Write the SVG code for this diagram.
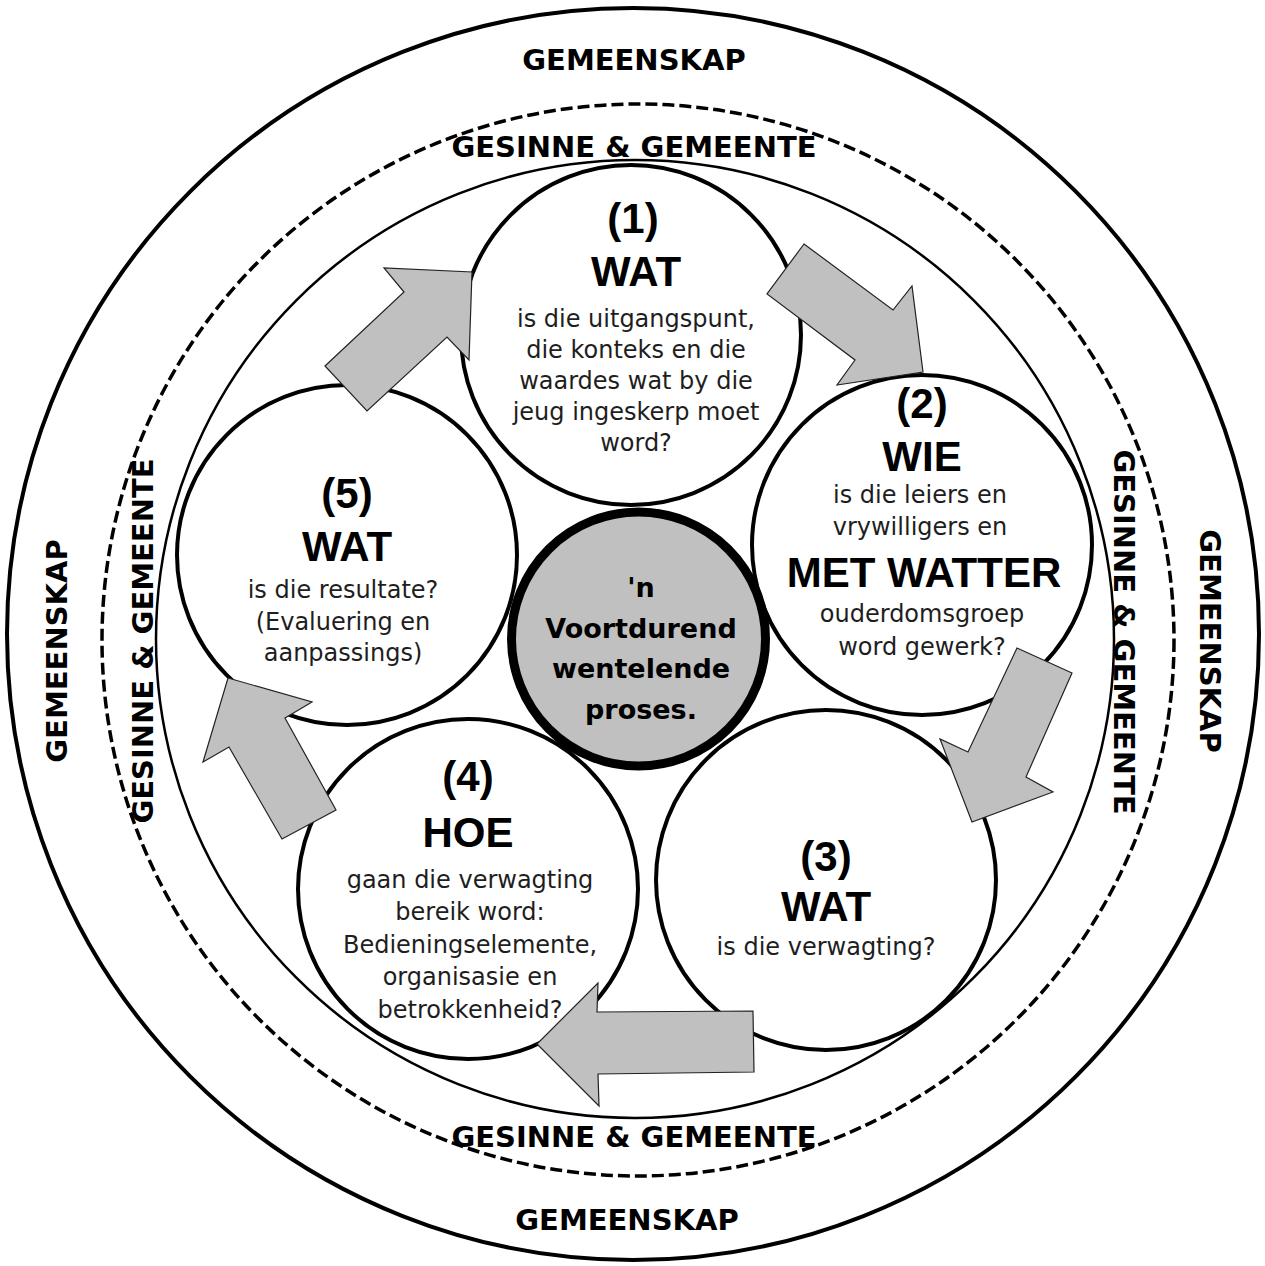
<svg xmlns="http://www.w3.org/2000/svg" width="1265" height="1266" viewBox="0 0 1265 1266">
<style>
.ring{fill:none;stroke:#000}
.node{fill:#fff;stroke:#000;stroke-width:4}
.lbl{font-family:"DejaVu Sans",sans-serif;font-weight:bold;font-size:29px;fill:#000;text-anchor:middle}
.ttl{font-family:"Liberation Sans",Arial,sans-serif;font-weight:bold;font-size:42px;fill:#000;text-anchor:middle}
.body{font-family:"DejaVu Sans",sans-serif;font-size:24px;fill:#1e1e1e;text-anchor:middle}
.ctr{font-family:"DejaVu Sans",sans-serif;font-weight:bold;font-size:27px;fill:#000;text-anchor:middle}
.arr{fill:#c0c0c0;stroke:#222;stroke-width:1.2;stroke-linejoin:miter}
</style>
<rect width="1265" height="1266" fill="#fff"/>
<g id="rings">
<circle class="ring" cx="633" cy="634" r="626" stroke-width="4"/>
<circle class="ring" cx="638" cy="640" r="536" stroke-width="3.5" stroke-dasharray="12 5"/>
<circle class="ring" cx="635" cy="639" r="479" stroke-width="2.5"/>
</g>
<g id="labels">
<text class="lbl" x="634" y="70">GEMEENSKAP</text>
<text class="lbl" x="634" y="157">GESINNE &amp; GEMEENTE</text>
<text class="lbl" x="634" y="1147">GESINNE &amp; GEMEENTE</text>
<text class="lbl" x="627" y="1230">GEMEENSKAP</text>
<text class="lbl" transform="translate(67,651) rotate(-90)">GEMEENSKAP</text>
<text class="lbl" transform="translate(153,641) rotate(-90)">GESINNE &amp; GEMEENTE</text>
<text class="lbl" transform="translate(1114,632) rotate(90)">GESINNE &amp; GEMEENTE</text>
<text class="lbl" transform="translate(1200,641) rotate(90)">GEMEENSKAP</text>
</g>
<g id="node1">
<circle class="node" cx="631" cy="335" r="170"/>
<text class="ttl" x="633" y="233">(1)</text>
<text class="ttl" x="636" y="286">WAT</text>
<text class="body" x="636" y="327">is die uitgangspunt,</text>
<text class="body" x="636" y="358">die konteks en die</text>
<text class="body" x="636" y="389">waardes wat by die</text>
<text class="body" x="636" y="420">jeug ingeskerp moet</text>
<text class="body" x="636" y="451">word?</text>
</g>
<g id="node2">
<circle class="node" cx="922" cy="545" r="170"/>
<text class="ttl" x="922" y="418">(2)</text>
<text class="ttl" x="922" y="471">WIE</text>
<text class="body" x="920" y="503">is die leiers en</text>
<text class="body" x="920" y="535">vrywilligers en</text>
<text class="ttl" x="924" y="587">MET WATTER</text>
<text class="body" x="922" y="622">ouderdomsgroep</text>
<text class="body" x="922" y="655">word gewerk?</text>
</g>
<g id="node3">
<circle class="node" cx="826" cy="880" r="170"/>
<text class="ttl" x="826" y="871">(3)</text>
<text class="ttl" x="826" y="921">WAT</text>
<text class="body" x="826" y="955">is die verwagting?</text>
</g>
<g id="node4">
<circle class="node" cx="468" cy="889" r="170"/>
<text class="ttl" x="468" y="791">(4)</text>
<text class="ttl" x="468" y="847">HOE</text>
<text class="body" x="470" y="888">gaan die verwagting</text>
<text class="body" x="470" y="920">bereik word:</text>
<text class="body" x="470" y="953">Bedieningselemente,</text>
<text class="body" x="470" y="985">organisasie en</text>
<text class="body" x="470" y="1018">betrokkenheid?</text>
</g>
<g id="node5">
<circle class="node" cx="347" cy="555" r="170"/>
<text class="ttl" x="347" y="508">(5)</text>
<text class="ttl" x="347" y="561">WAT</text>
<text class="body" x="343" y="598">is die resultate?</text>
<text class="body" x="343" y="630">(Evaluering en</text>
<text class="body" x="343" y="661">aanpassings)</text>
</g>
<g id="center">
<circle cx="638.5" cy="639" r="127" fill="#c0c0c0" stroke="#000" stroke-width="9"/>
<text class="ctr" x="641" y="597">'n</text>
<text class="ctr" x="641" y="638">Voortdurend</text>
<text class="ctr" x="641" y="678">wentelende</text>
<text class="ctr" x="641" y="719">proses.</text>
</g>
<g id="connectors">
<polygon class="arr" points="325,366 404,292 384,268 472,272 469,360 447,337 367,411"/>
<polygon class="arr" points="804,244 893,310 912,286 923,372 837,385 855,360 767,294"/>
<polygon class="arr" points="1017,648 1072,673 1026,777 1053,792 972,822 940,739 968,752"/>
<polygon class="arr" points="753,1011 754,1072 598,1074 599,1106 537,1044 598,983 597,1012"/>
<polygon class="arr" points="228,678 312,702 285,718 336,810 282,839 229,747 203,762"/>
</g>
</svg>
